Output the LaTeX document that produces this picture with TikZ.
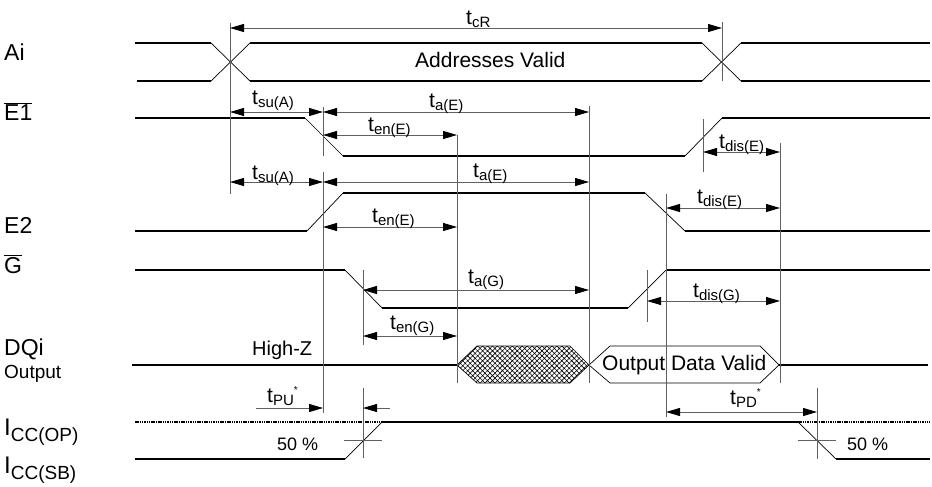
\documentclass[tikz,border=0pt]{standalone}
\usepackage{fontspec}
\setmainfont{Liberation Sans}
\usetikzlibrary{arrows.meta,patterns.meta}
\newcommand{\fsz}[1]{\fontsize{#1}{#1}\selectfont}
\newcommand{\tlab}[1]{{\fsz{21}t}\raisebox{-3pt}{\fsz{15}#1}}
\newcommand{\astk}{\raisebox{9pt}{\fsz{10}*}}
\newcommand{\icc}[1]{{\fsz{24}I}\raisebox{-6pt}{\fsz{19}CC(#1)}}
\begin{document}
\begin{tikzpicture}[x=1pt,y=-1pt,
  sig/.style={line width=1.8pt},
  edge/.style={line width=0.7pt},
  guide/.style={gray!75!black,line width=0.9pt},
  dimarr/.style={guide,{Triangle[length=14pt,width=8pt,color=black]}-{Triangle[length=14pt,width=8pt,color=black]}},
  onearr/.style={guide,-{Triangle[length=14pt,width=8pt,color=black]}},
  txt/.style={inner sep=0pt,anchor=base west},
  lft/.style={txt,font=\fsz{23}}]
\useasboundingbox (0,0) rectangle (932,487);

% left column
\node[lft] (ai) at (4,61) {Ai};
\node[lft] (e1) at (4,120) {$\overline{\mbox{E1}}$};
\node[lft] (e2) at (4,233) {E2};
\node[lft] (g) at (4,273) {$\overline{\mbox{G}}$};
\node[lft] (dq) at (4,355) {DQi};
\node[txt,font=\fsz{19}] (outp) at (4,378) {Output};
\node[txt] (iop) at (4,435) {\icc{OP}};
\node[txt] (isb) at (4,473) {\icc{SB}};

% Ai
\draw[sig] (135,43) -- (211,43) (137,81) -- (211,81);
\draw[edge] (211,43) -- (250,81) (211,81) -- (250,43);
\draw[sig] (250,43) -- (702,43) (250,81) -- (702,81);
\draw[edge] (702,43) -- (741,81) (702,81) -- (741,43);
\draw[sig] (741,43) -- (930,43) (741,81) -- (930,81);
\node[txt,font=\fsz{21}] (addr) at (415,68) {Addresses Valid};

% E1
\draw[sig] (135,118) -- (305,118);
\draw[edge] (305,118) -- (343,156);
\draw[sig] (343,156) -- (685,156);
\draw[edge] (685,156) -- (722,118);
\draw[sig] (722,118) -- (930,118);

% E2
\draw[sig] (135,231) -- (307,231);
\draw[edge] (307,231) -- (343,193);
\draw[sig] (343,193) -- (645,193);
\draw[edge] (645,193) -- (685,231);
\draw[sig] (685,231) -- (930,231);

% G
\draw[sig] (135,270) -- (345,270);
\draw[edge] (345,270) -- (382,308);
\draw[sig] (382,308) -- (628,308);
\draw[edge] (628,308) -- (666,270);
\draw[sig] (666,270) -- (930,270);

% DQi
\draw[sig] (132,365) -- (457,365);
\draw[edge,pattern={Hatch[angle=45,distance=3.5pt,line width=0.6pt]}]
  (457,365) -- (477,346) -- (570,346) -- (589,365) -- (570,383) -- (477,383) -- cycle;
\draw[edge] (589,365) -- (610,346) -- (760,346) -- (779,365) -- (760,383) -- (610,383) -- cycle;
\draw[sig] (779,365) -- (928,365);
\node[txt,font=\fsz{20}] (hz) at (252,355) {High-Z};
\node[txt,font=\fsz{21}] (odv) at (602,370) {Output Data Valid};

% Icc
\draw[sig,dash pattern=on 1.5pt off 0.8pt] (135,422) -- (382,422);
\draw[sig] (382,422) -- (798,422);
\draw[sig,dash pattern=on 1.5pt off 0.8pt] (798,422) -- (930,422);
\draw[sig] (135,459) -- (345,459);
\draw[edge] (345,459) -- (382,422);
\draw[edge] (798,422) -- (836,459);
\draw[sig] (836,459) -- (930,459);
\draw[guide] (344,440) -- (382,440) (363,388) -- (363,458);
\draw[guide] (798,440) -- (836,440) (817,388) -- (817,459);
\node[txt,font=\fsz{18}] (pa) at (277,450) {50 \%};
\node[txt,font=\fsz{18}] (pb) at (847,450) {50 \%};

% guide lines
\draw[guide] (230,23) -- (230,194);
\draw[guide] (722,22) -- (722,81);
\draw[guide] (323,107) -- (323,156) (323,172) -- (323,413);
\draw[guide] (589,106) -- (589,383);
\draw[guide] (457,135) -- (457,383);
\draw[guide] (703,119) -- (703,172);
\draw[guide] (780,143) -- (780,383);
\draw[guide] (666,194) -- (666,417);
\draw[guide] (363,270) -- (363,345);
\draw[guide] (647,270) -- (647,322);

% timing arrows
\draw[dimarr] (230,28) -- (722,28);
\draw[dimarr] (230,112) -- (323,112);
\draw[dimarr] (323,112) -- (589,112);
\draw[dimarr] (323,135) -- (457,135);
\draw[dimarr] (703,152) -- (780,152);
\draw[dimarr] (230,182) -- (323,182);
\draw[dimarr] (323,182) -- (589,182);
\draw[dimarr] (323,227) -- (457,227);
\draw[dimarr] (666,208) -- (780,208);
\draw[dimarr] (363,290) -- (589,290);
\draw[dimarr] (363,336) -- (457,336);
\draw[dimarr] (647,301) -- (780,301);
\draw[dimarr] (666,412) -- (817,412);
\draw[onearr] (256,408) -- (323,408);
\draw[onearr] (390,408) -- (363,408);

% timing labels
\node[txt] (tcr) at (466,25) {\tlab{cR}};
\node[txt] (tsu1) at (252,104) {\tlab{su(A)}};
\node[txt] (tae1) at (429,107) {\tlab{a(E)}};
\node[txt] (ten1) at (368,131) {\tlab{en(E)}};
\node[txt] (tdis1) at (719,148) {\tlab{dis(E)}};
\node[txt] (tsu2) at (252,179) {\tlab{su(A)}};
\node[txt] (tae2) at (473,177) {\tlab{a(E)}};
\node[txt] (ten2) at (372,222) {\tlab{en(E)}};
\node[txt] (tdis2) at (697,203) {\tlab{dis(E)}};
\node[txt] (tag) at (468,283) {\tlab{a(G)}};
\node[txt] (teng) at (390,329) {\tlab{en(G)}};
\node[txt] (tdisg) at (693,297) {\tlab{dis(G)}};
\node[txt] (tpu) at (267,402) {\tlab{PU}\astk};
\node[txt] (tpd) at (730,404) {\tlab{PD}\astk};
\end{tikzpicture}
\end{document}
